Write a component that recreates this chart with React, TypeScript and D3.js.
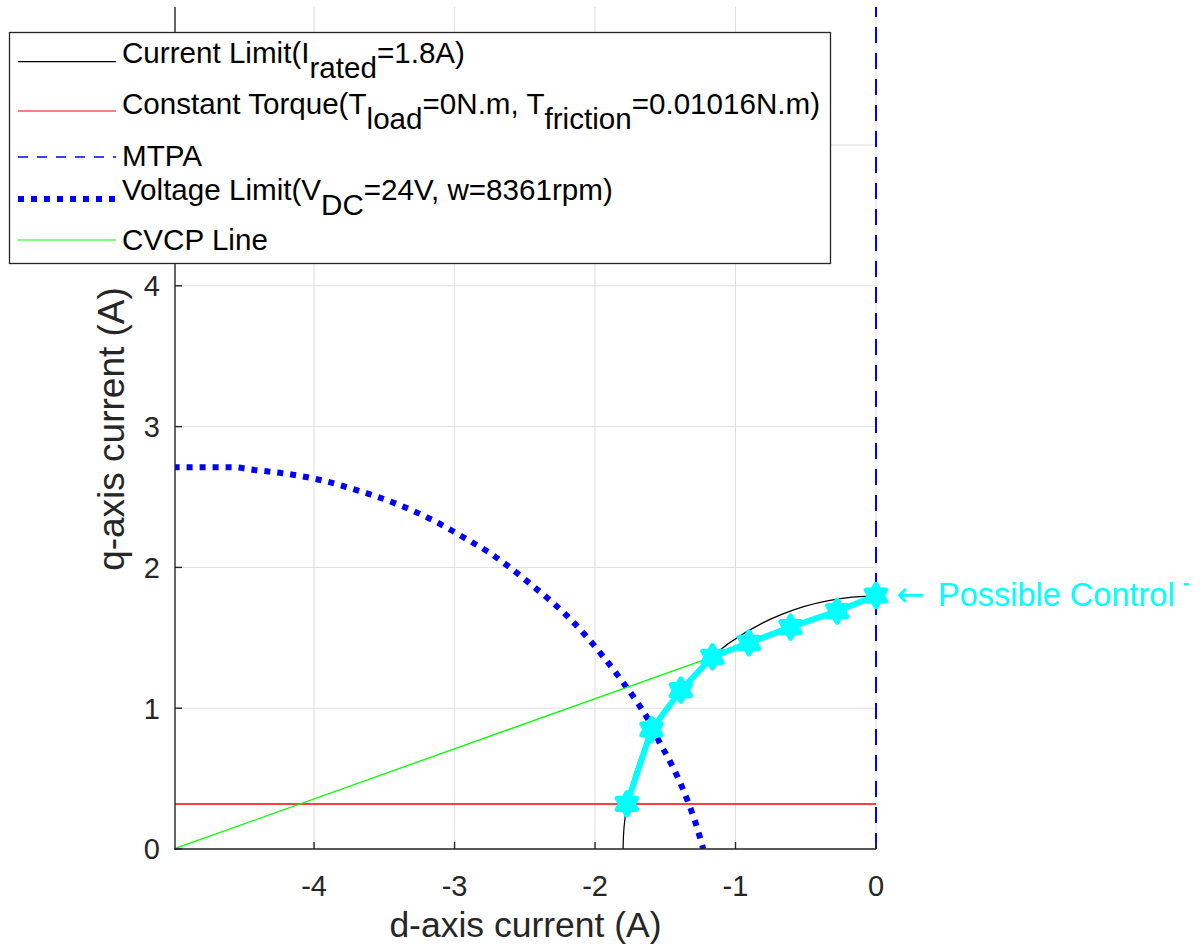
import React from 'react';
import * as d3 from 'd3';

const W = 1203;
const H = 950;

// axis ticks
const xTicks = [-4, -3, -2, -1, 0];
const yTicks = [0, 1, 2, 3, 4, 5];
const xLimits = [-4.99, 0];
const yLimits = [0, 5.98];

// current limit circle radius (A)
const ratedCurrent = 1.8;

// constant torque line
const torqueD = [-5, 0];
const torqueQ = [0.32, 0.32];

// MTPA line
const mtpaD = [0, 0];
const mtpaQ = [0, 5.98];

// voltage limit curve
const voltD = [-5.0, -4.59, -4.41, -4.225, -3.948, -3.68, -3.415, -3.154, -2.918, -2.752, -2.603, -2.456, -2.313, -2.178, -2.053, -1.935, -1.816, -1.709, -1.615, -1.537, -1.484, -1.402, -1.331, -1.271, -1.23];
const voltQ = [2.712, 2.712, 2.69, 2.669, 2.619, 2.544, 2.452, 2.335, 2.203, 2.104, 1.997, 1.879, 1.76, 1.635, 1.5, 1.358, 1.204, 1.055, 0.908, 0.75, 0.655, 0.489, 0.316, 0.143, 0.0];

// CVCP line
const cvcpD = [-5, -1.164];
const cvcpQ = [0, 1.365];

// possible control trajectory
const trajD = [-1.773, -1.598, -1.389, -1.164, -0.904, -0.608, -0.276, 0];
const trajQ = [0.321, 0.849, 1.128, 1.365, 1.464, 1.576, 1.689, 1.8];

type Part = { t: string; sub?: boolean };
const legendLabels: Part[][] = [
  [{ t: 'Current Limit(I' }, { t: 'rated', sub: true }, { t: '=1.8A)' }],
  [{ t: 'Constant Torque(T' }, { t: 'load', sub: true }, { t: '=0N.m, T' }, { t: 'friction', sub: true }, { t: '=0.01016N.m)' }],
  [{ t: 'MTPA' }],
  [{ t: 'Voltage Limit(V' }, { t: 'DC', sub: true }, { t: '=24V, w=8361rpm)' }],
  [{ t: 'CVCP Line' }],
];
const legendColors = ['#000000', '#ff0000', '#0000ff', '#0000ff', '#00ff00'];

const FONT = '"Liberation Sans", Arial, Helvetica, sans-serif';
const AXIS = '#262626';

const hexagram = {
  draw(ctx: any, size: number) {
    const R = Math.sqrt(size);
    const r = R * 0.58;
    for (let i = 0; i < 12; i++) {
      const a = (i * Math.PI) / 6 - Math.PI / 2;
      const rr = i % 2 === 0 ? R : r;
      const px = rr * Math.cos(a);
      const py = rr * Math.sin(a);
      if (i === 0) ctx.moveTo(px, py);
      else ctx.lineTo(px, py);
    }
    ctx.closePath();
  },
};

export default function App() {
  const x = d3.scaleLinear().domain(xLimits).range([175, 876]);
  const y = d3.scaleLinear().domain(yLimits).range([849, 7]);

  const toPts = (ds: number[], qs: number[]) => ds.map((d, i) => [d, qs[i]] as [number, number]);
  const line = d3.line<[number, number]>().x((p) => x(p[0])).y((p) => y(p[1]));
  const smooth = d3.line<[number, number]>().x((p) => x(p[0])).y((p) => y(p[1])).curve(d3.curveMonotoneX);

  // current limit arc, quarter circle in the 2nd quadrant
  const arcPath = d3.path();
  const rx = x(0) - x(-ratedCurrent);
  arcPath.moveTo(x(-ratedCurrent), y(0));
  arcPath.arc(x(0), y(0), rx, Math.PI, 1.5 * Math.PI);

  const marker = d3.symbol().type(hexagram as any).size(125)();

  const legendRows = [
    { lineY: 61.7, base: 63 },
    { lineY: 111, base: 114 },
    { lineY: 157, base: 166 },
    { lineY: 199, base: 200 },
    { lineY: 240, base: 250 },
  ];
  const subDy = 15;

  return (
    <svg width={W} height={H} style={{ position: 'absolute', left: 0, top: 0, background: '#fff' }} fontFamily={FONT}>
      <defs>
        <clipPath id="plot">
          <rect x={175} y={7} width={715} height={842} />
        </clipPath>
        <clipPath id="fig">
          <rect x={0} y={0} width={1189} height={H} />
        </clipPath>
      </defs>
      <rect width={W} height={H} fill="#fff" />

      {/* grid */}
      <g stroke="#dfdfdf" strokeWidth={1}>
        {xTicks.map((t) => (
          <line key={'gx' + t} x1={x(t)} x2={x(t)} y1={y(yLimits[0])} y2={y(yLimits[1])} />
        ))}
        {yTicks.map((t) => (
          <line key={'gy' + t} x1={x(xLimits[0])} x2={x(xLimits[1])} y1={y(t)} y2={y(t)} />
        ))}
      </g>

      {/* data */}
      <g clipPath="url(#plot)" fill="none">
        <path d={arcPath.toString()} stroke="#000" strokeWidth={1.2} />
        <path d={line(toPts(torqueD, torqueQ)) || ''} stroke="#ff0000" strokeWidth={1.5} />
        <path d={line(toPts(mtpaD, mtpaQ)) || ''} stroke="#0000ff" strokeWidth={2} strokeDasharray="16 10" />
        <path d={smooth(toPts(voltD, voltQ)) || ''} stroke="#0000ff" strokeWidth={6} strokeDasharray="6 7" />
        <path d={line(toPts(cvcpD, cvcpQ)) || ''} stroke="#00ff00" strokeWidth={1.3} />
        <path d={line(toPts(trajD, trajQ)) || ''} stroke="#00ffff" strokeWidth={6} strokeLinejoin="round" />
        {trajD.map((d, i) => (
          <path key={'m' + i} d={marker || ''} transform={`translate(${x(d)},${y(trajQ[i])})`} fill="#00ffff" stroke="#00ffff" strokeWidth={5} strokeLinejoin="round" />
        ))}
      </g>

      {/* axes */}
      <g stroke={AXIS} strokeWidth={1.4}>
        <line x1={x(xLimits[0])} x2={x(xLimits[0])} y1={y(yLimits[1])} y2={y(0) + 0.7} />
        <line x1={x(xLimits[0]) - 0.7} x2={x(xLimits[1])} y1={y(0)} y2={y(0)} />
        {xTicks.map((t) => (
          <line key={'tx' + t} x1={x(t)} x2={x(t)} y1={y(0)} y2={y(0) - 7} />
        ))}
        {yTicks.map((t) => (
          <line key={'ty' + t} x1={x(xLimits[0])} x2={x(xLimits[0]) + 7} y1={y(t)} y2={y(t)} />
        ))}
      </g>
      <g fill={AXIS} fontSize={29}>
        {xTicks.map((t) => (
          <text key={'lx' + t} x={x(t)} y={895.5} textAnchor="middle">
            {String(t)}
          </text>
        ))}
        {yTicks.map((t) => (
          <text key={'ly' + t} x={160} y={y(t) + 10.4} textAnchor="end">
            {t}
          </text>
        ))}
      </g>
      <text x={525.5} y={937} textAnchor="middle" fontSize={35.5} fill={AXIS}>
        d-axis current (A)
      </text>
      <text transform="translate(124,429) rotate(-90)" textAnchor="middle" fontSize={37} fill={AXIS}>
        q-axis current (A)
      </text>

      {/* annotation */}
      <g clipPath="url(#fig)" fill="#00ffff">
        <text x={896} y={606} fontFamily='"DejaVu Sans", sans-serif' fontSize={34}>
          {'\u2190'}
        </text>
        <text x={938} y={606} fontSize={32.5}>
          Possible Control Trajectory
        </text>
      </g>

      {/* legend */}
      <g>
        <rect x={9.5} y={32.5} width={821} height={231} fill="#fff" stroke={AXIS} strokeWidth={1.3} />
        {legendRows.map((r, i) => (
          <g key={'lg' + i}>
            {i === 3 ? (
              <line x1={18} x2={117} y1={r.lineY} y2={r.lineY} stroke={legendColors[i]} strokeWidth={6} strokeDasharray="6 7" />
            ) : (
              <line
                x1={18}
                x2={116}
                y1={r.lineY}
                y2={r.lineY}
                stroke={legendColors[i]}
                strokeWidth={i === 2 ? 1.5 : 1.2}
                strokeDasharray={i === 2 ? '10 9' : undefined}
              />
            )}
            <text x={122} y={r.base} fontSize={29.6} fill="#000">
              {legendLabels[i].map((p, j) => {
                const prevSub = j > 0 && legendLabels[i][j - 1].sub;
                const dy = p.sub ? subDy : prevSub ? -subDy : 0;
                return (
                  <tspan key={j} dy={dy}>
                    {p.t}
                  </tspan>
                );
              })}
            </text>
          </g>
        ))}
      </g>
    </svg>
  );
}
